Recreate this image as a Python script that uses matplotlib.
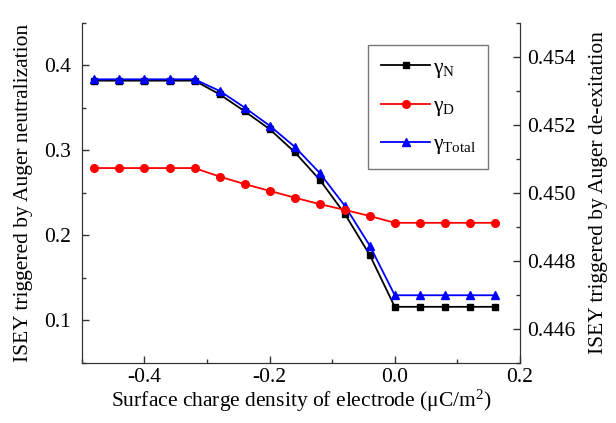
import matplotlib
matplotlib.use('Agg')
import matplotlib.pyplot as plt
from matplotlib.ticker import MultipleLocator

plt.rcParams['font.family'] = ['Liberation Serif', 'DejaVu Serif']
plt.rcParams['mathtext.fontset'] = 'custom'
plt.rcParams['mathtext.rm'] = 'Liberation Serif'
plt.rcParams['mathtext.it'] = 'Liberation Serif'

# surface charge density (uC/m^2)
sigma = [-0.48, -0.44, -0.40, -0.36, -0.32, -0.28, -0.24, -0.20, -0.16,
         -0.12, -0.08, -0.04, 0.00, 0.04, 0.08, 0.12, 0.16]
# Auger neutralization yield (left axis)
gamma_n = [0.382, 0.382, 0.382, 0.382, 0.382, 0.366, 0.346, 0.325, 0.298,
           0.2655, 0.2255, 0.177, 0.116, 0.116, 0.116, 0.116, 0.116]
gamma_total = [0.3836, 0.3836, 0.3836, 0.3836, 0.3836, 0.370, 0.3504, 0.329, 0.3043,
               0.2734, 0.235, 0.188, 0.1296, 0.1296, 0.1296, 0.1296, 0.1296]
# Auger de-excitation yield (right axis)
gamma_d = [0.45073, 0.45073, 0.45073, 0.45073, 0.45073, 0.45048, 0.45026, 0.45006, 0.44986,
           0.44967, 0.44950, 0.44932, 0.44912, 0.44912, 0.44912, 0.44912, 0.44912]

fs = 15.5

fig = plt.figure(figsize=(6.16, 4.23), dpi=100)
ax = fig.add_axes([0.133, 0.142, 0.711, 0.804])
ax2 = ax.twinx()

l1, = ax.plot(sigma, gamma_n, color='k', marker='s', ms=5, lw=1.3, label=r'$\gamma_{\mathrm{N}}$')
l3, = ax.plot(sigma, gamma_total, color='b', marker='^', ms=6, lw=1.3, label=r'$\gamma_{\mathrm{Total}}$')
l2, = ax2.plot(sigma, gamma_d, color='r', marker='o', ms=5.5, lw=1.3, label=r'$\gamma_{\mathrm{D}}$')

ax.set_xlim(-0.5, 0.2)
ax.set_ylim(0.05, 0.45)
ax2.set_ylim(0.445, 0.455)

ax.xaxis.set_major_locator(MultipleLocator(0.2))
ax.xaxis.set_minor_locator(MultipleLocator(0.1))
ax.yaxis.set_major_locator(MultipleLocator(0.1))
ax.yaxis.set_minor_locator(MultipleLocator(0.05))
ax2.yaxis.set_major_locator(MultipleLocator(0.002))
ax2.yaxis.set_minor_locator(MultipleLocator(0.001))
ax.xaxis.set_major_formatter(plt.FuncFormatter(lambda v, p: f'{v:.1f}'))
ax2.yaxis.set_major_formatter(plt.FuncFormatter(lambda v, p: f'{v:.3f}'))

for a in (ax, ax2):
    a.spines['top'].set_visible(False)
    a.tick_params(which='both', direction='in', labelsize=fs, width=1, colors='#333333', labelcolor='k')
    a.tick_params(which='major', length=5)
    a.tick_params(which='minor', length=3)
    for s in a.spines.values():
        s.set_color('#333333')
ax.tick_params(axis='y', which='both', right=False, pad=8)
ax2.tick_params(axis='y', pad=5)

ax.set_xlabel(r'Surface charge density of electrode ($\mathrm{\mu}$C/m$^2$)', fontsize=fs, labelpad=1)
ax.set_ylabel('ISEY triggered by Auger neutralization', fontsize=fs, labelpad=8)
ax2.set_ylabel('ISEY triggered by Auger de-exitation', fontsize=fs, labelpad=10)

leg = ax2.legend(handles=[l1, l2, l3], loc='upper left', bbox_to_anchor=(0.653, 0.935),
                 borderaxespad=0, fontsize=fs, frameon=True, fancybox=False, edgecolor='#555555',
                 handlelength=2.3, borderpad=0.6, labelspacing=0.75, handletextpad=0.1)
leg.get_frame().set_linewidth(1)

fig.savefig('out.png', dpi=100)
